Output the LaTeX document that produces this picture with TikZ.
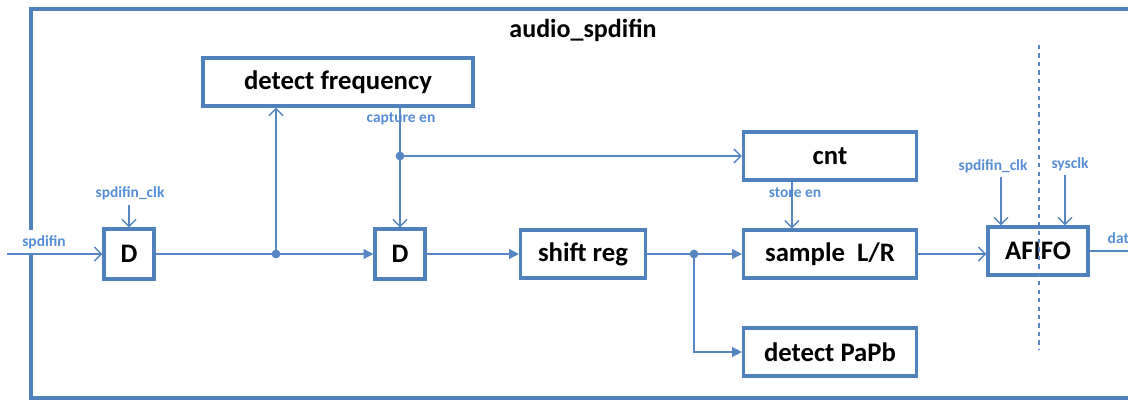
\documentclass[tikz,border=0pt]{standalone}
\usepackage{fontspec}
\setmainfont{Carlito}
\usetikzlibrary{arrows.meta, positioning, calc}
\definecolor{frameblue}{RGB}{79, 129, 189}
\definecolor{wireblue}{RGB}{86, 134, 196}
\definecolor{labelblue}{RGB}{85, 142, 213}
\tikzset{
    wire/.style={line width=1pt, wireblue},
    openArrow/.style={wire, -{Straight Barb[length=5pt, width=10pt]}},
    fullArrow/.style={wire, -{Triangle[length=7pt, width=7pt]}},
}

\begin{document}
\begin{tikzpicture}[
        x=0.025cm, y=-0.025cm,
        block/.style={
            rectangle, draw=frameblue, line width=2.2pt, fill=white,
            text=black, font=\bfseries\fontsize{19}{22}\selectfont,
            minimum height=1.2cm, align=center, inner sep=2pt
        },
        dff/.style={block, minimum width=1.25cm, minimum height=1.25cm},
        sig/.style={font=\bfseries\fontsize{11}{13}\selectfont, text=labelblue, inner sep=1pt},
        dot/.style={circle, fill=wireblue, inner sep=0pt, minimum size=0.22cm},
        title/.style={font=\bfseries\fontsize{18.5}{21}\selectfont, text=black},
    ]
    \useasboundingbox (0,0) rectangle (1128,401);

    % Outer frame
    \draw[frameblue, line width=2.2pt] (1128,9) -| (31,398) -- (1128,398);
    \node[title] (top) at (583,30) {audio\_spdifin};

    % ---- Blocks ----
    \node[block, minimum width=6.75cm] (freq) at (338,82) {detect frequency};
    \node[dff] (d1) at (129,254) {D};
    \node[dff] (d2) at (400,254) {D};
    \node[block, minimum width=3.125cm] (shift) at (583,254) {shift reg};
    \node[block, minimum width=4.325cm] (cnt) at (830,156) {cnt};
    \node[block, minimum width=4.325cm] (sample) at (830,254) {sample\ \ L/R};
    \node[block, minimum width=4.325cm] (papb) at (830,352) {detect PaPb};
    \node[block, minimum width=2.5cm] (afifo) at (1038,251) {AFIFO};

    % ---- Branch points and free ends ----
    \node[dot] (tap1) at (276,254) {};
    \node[dot] (tap2) at (400,156) {};
    \node[dot] (tap3) at (694,254) {};
    \coordinate (in) at (7,254);
    \coordinate (clk1) at (129,205);
    \coordinate (clk2) at (1001,177);
    \coordinate (clk3) at (1065,175);
    \coordinate (out) at (1128,251);
    \coordinate (cutTop) at (1039,45);
    \coordinate (cutBot) at (1039,350);

    % ---- Signal names ----
    \node[sig, fill=white, inner ysep=4pt] (nIn) at (44,242) {spdifin};
    \node[sig] (nClk1) at (130,193) {spdifin\_clk};
    \node[sig] (nCap) at (401,119) {capture\ en};
    \node[sig] (nStore) at (795,193) {store en};
    \node[sig] (nClk2) at (993,166) {spdifin\_clk};
    \node[sig] (nClk3) at (1070,164) {sysclk};
    \node[sig, anchor=west] (nOut) at (1106,238) {dat};

    % ---- Connections ----
    \draw[openArrow] (in) -- (d1.west);
    \draw[openArrow] (clk1) -- (d1.north);
    \draw[fullArrow] (d1.east) -- (d2.west);
    \draw[openArrow] (tap1.center) -- (tap1 |- freq.south);
    \draw[openArrow] (d2.north |- freq.south) -- (d2.north);
    \draw[openArrow] (tap2.center) -- (tap2 -| cnt.west);
    \draw[fullArrow] (d2.east) -- (shift.west);
    \draw[fullArrow] (shift.east) -- (sample.west);
    \draw[fullArrow] (tap3.center) |- (papb.west);
    \draw[openArrow] ($(cnt.south west)+(50,0)$) -- ($(sample.north west)+(50,0)$);
    \draw[openArrow] (sample.east) -- (sample.east -| afifo.west);
    \draw[openArrow] (clk2) -- (clk2 |- afifo.north);
    \draw[openArrow] (clk3) -- (clk3 |- afifo.north);
    \draw[wire] (afifo.east) -- (out);

    % Clock domain boundary
    \draw[wire, dashed] (cutTop) -- (cutBot);
\end{tikzpicture}
\end{document}
